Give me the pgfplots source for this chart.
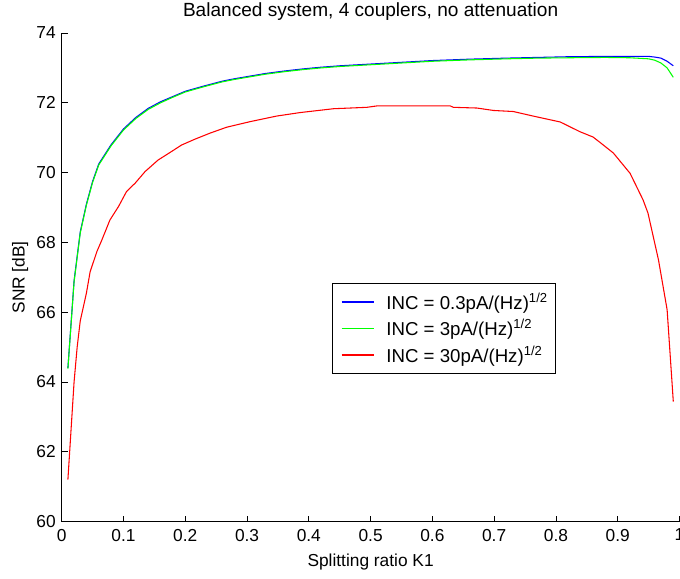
\documentclass[border=0pt]{standalone}
\usepackage{pgfplots}
\pgfplotsset{compat=1.18}
\usepackage{fontspec}
\setmainfont{Liberation Sans}
\usetikzlibrary{calc}
\begin{document}
\begin{tikzpicture}
\begin{axis}[
  name=ax,
  scale only axis,
  width=463.4pt, height=366.5pt,
  xmin=0, xmax=1, ymin=60, ymax=74,
  axis x line*=bottom, axis y line*=left,
  axis line style={-, line width=0.6pt},
  tick align=inside,
  major tick length=4.5pt,
  tick style={line width=0.6pt, black},
  xtick={0,0.1,0.2,0.3,0.4,0.5,0.6,0.7,0.8,0.9,1},
  xticklabels={0,0.1,0.2,0.3,0.4,0.5,0.6,0.7,0.8,0.9,1},
  ytick={60,62,64,66,68,70,72,74},
  /pgf/number format/assume math mode=true,
  tick label style={font=\fontsize{13}{15}\selectfont},
  xticklabel style={yshift=-2pt},
  yticklabel style={xshift=-1pt},
  label style={font=\fontsize{13}{15}\selectfont},
  xlabel={Splitting ratio K1},
  ylabel={SNR [dB]},
  xlabel style={at={(0.5,0)}, anchor=base, yshift=-34pt},
  ylabel style={at={(-0.0599,0.5)}, anchor=base},
  title={Balanced system, 4 couplers, no attenuation},
  title style={font=\fontsize{14.3}{16}\selectfont, at={(0.5,1)}, anchor=base, yshift=6.2pt},
  legend style={at={(0.4375,0.488)}, anchor=north west, draw=black, line width=0.6pt,
    font=\fontsize{14}{16}\selectfont, row sep=2pt, inner xsep=4pt, inner ysep=5pt},
  legend cell align=left,
  legend image code/.code={\path[draw=none] (0pt,0pt) -- (34.5pt,0pt); \draw[#1, line width=0.9pt] (3pt,0pt) -- (27pt,0pt);},
  every axis plot/.append style={line width=0.8pt},
]
\addplot[color=blue] coordinates {
(0.01,64.4) (0.02,66.9) (0.03,68.3) (0.04,69.1) (0.05,69.75) (0.06,70.25)
(0.08,70.8) (0.10,71.25) (0.12,71.58) (0.14,71.84) (0.16,72.03) (0.18,72.18)
(0.20,72.33) (0.23,72.48) (0.26,72.62) (0.28,72.69) (0.30,72.75) (0.33,72.84)
(0.36,72.91) (0.39,72.97) (0.42,73.02) (0.45,73.06) (0.50,73.11) (0.55,73.16)
(0.60,73.21) (0.66,73.25) (0.72,73.28) (0.77,73.30) (0.82,73.32) (0.88,73.33)
(0.95,73.33) (0.96,73.31) (0.97,73.28) (0.98,73.19) (0.99,73.06)
};
\addlegendentry{INC = 0.3pA/(Hz)\textsuperscript{1/2}}
\addplot[color=green] coordinates {
(0.01,64.38) (0.02,66.87) (0.03,68.27) (0.04,69.07) (0.05,69.72) (0.06,70.22)
(0.08,70.77) (0.10,71.22) (0.12,71.55) (0.14,71.81) (0.16,72.0) (0.18,72.16)
(0.20,72.31) (0.23,72.46) (0.26,72.6) (0.28,72.67) (0.30,72.73) (0.33,72.82)
(0.36,72.89) (0.39,72.95) (0.42,73.0) (0.45,73.04) (0.50,73.09) (0.55,73.14)
(0.60,73.19) (0.66,73.23) (0.72,73.26) (0.77,73.28) (0.82,73.29) (0.88,73.30)
(0.92,73.29) (0.95,73.26) (0.96,73.22) (0.97,73.14) (0.98,73.0) (0.99,72.73)
};
\addlegendentry{INC = 3pA/(Hz)\textsuperscript{1/2}}
\addplot[color=red] coordinates {
(0.01,61.2) (0.02,64.0) (0.025,65.0) (0.03,65.75) (0.04,66.55) (0.046,67.16)
(0.057,67.74) (0.065,68.07) (0.078,68.64) (0.092,69.03) (0.105,69.46) (0.119,69.70)
(0.135,70.03) (0.156,70.36) (0.173,70.55) (0.194,70.79) (0.216,70.96) (0.24,71.13)
(0.267,71.30) (0.305,71.46) (0.348,71.62) (0.386,71.72) (0.44,71.83) (0.494,71.87)
(0.51,71.91) (0.629,71.91) (0.634,71.87) (0.672,71.85) (0.699,71.78) (0.731,71.75)
(0.763,71.62) (0.807,71.45) (0.839,71.17) (0.860,71.02) (0.871,70.87) (0.893,70.56)
(0.920,69.98) (0.941,69.22) (0.949,68.84) (0.966,67.50) (0.980,66.07) (0.990,63.44)
};
\addlegendentry{INC = 30pA/(Hz)\textsuperscript{1/2}}
\end{axis}
\pgfresetboundingbox
\path ($(ax.south west)+(-46.3pt,-43pt)$) rectangle ($(ax.north east)+(0.4pt,24.75pt)$);
\end{tikzpicture}
\end{document}
